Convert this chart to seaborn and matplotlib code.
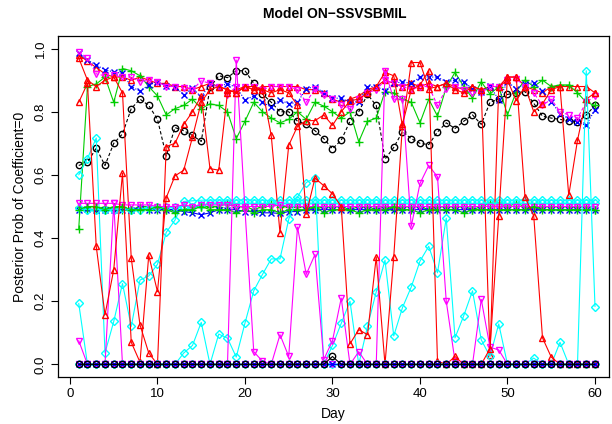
import matplotlib
matplotlib.use("Agg")
import matplotlib.pyplot as plt
import seaborn as sns
import pandas as pd

# ---------------- data ----------------
days = list(range(1, 61))

black_high = [0.63,0.64,0.685,0.63,0.70,0.73,0.81,0.84,0.82,0.776,
              0.66,0.75,0.74,0.725,0.706,0.877,0.914,0.908,0.93,0.93,
              0.89,0.856,0.83,0.80,0.80,0.77,0.76,0.74,0.715,0.683,
              0.71,0.77,0.80,0.855,0.82,0.65,0.687,0.737,0.715,0.70,
              0.696,0.736,0.765,0.747,0.77,0.79,0.76,0.83,0.84,0.855,
              0.86,0.864,0.827,0.786,0.78,0.776,0.77,0.767,0.79,0.82]
red_top = [0.98,0.96,0.94,0.92,0.91,0.91,0.90,0.91,0.90,0.89,
           0.89,0.88,0.88,0.87,0.88,0.89,0.88,0.87,0.86,0.88,
           0.87,0.88,0.88,0.88,0.88,0.88,0.87,0.87,0.86,0.84,
           0.83,0.84,0.85,0.87,0.88,0.90,0.89,0.88,0.89,0.88,
           0.89,0.88,0.89,0.88,0.87,0.88,0.87,0.88,0.88,0.91,
           0.91,0.88,0.87,0.86,0.88,0.88,0.88,0.88,0.88,0.86]
green_high = [0.43,0.88,0.888,0.91,0.83,0.937,0.93,0.914,0.88,0.85,
              0.79,0.81,0.82,0.84,0.81,0.825,0.82,0.80,0.715,0.77,
              0.83,0.80,0.78,0.765,0.776,0.80,0.776,0.83,0.818,0.80,
              0.78,0.80,0.705,0.77,0.78,0.864,0.86,0.84,0.83,0.765,
              0.84,0.786,0.877,0.925,0.88,0.843,0.895,0.856,0.88,0.79,
              0.864,0.90,0.88,0.90,0.88,0.885,0.885,0.86,0.83,0.82]
blue_high = [0.985,0.964,0.948,0.933,0.926,0.922,0.88,0.865,0.885,0.895,
             0.882,0.88,0.854,0.876,0.846,0.89,0.88,0.889,0.877,0.838,
             0.85,0.83,0.815,0.838,0.825,0.83,0.873,0.88,0.86,0.843,
             0.843,0.83,0.832,0.88,0.88,0.867,0.89,0.895,0.89,0.91,
             0.91,0.91,0.895,0.90,0.895,0.873,0.862,0.882,0.838,0.895,
             0.873,0.889,0.892,0.867,0.832,0.794,0.778,0.767,0.757,0.807]
cyan_rise = [0.60,0.652,0.717,0.036,0.136,0.256,0.12,0.267,0.28,0.317,
             0.418,0.457,0.516,0.518,0.52,0.52,0.521,0.52,0.52,0.522,
             0.52,0.52,0.519,0.52,0.52,0.52,0.52,0.521,0.52,0.52,
             0.52,0.52,0.52,0.521,0.52,0.52,0.52,0.52,0.521,0.52,
             0.52,0.52,0.52,0.52,0.52,0.521,0.52,0.52,0.52,0.52,
             0.52,0.521,0.52,0.52,0.52,0.52,0.52,0.52,0.52,0.52]
magenta_high = [0.99,0.97,0.92,0.914,0.915,0.91,0.91,0.895,0.90,0.895,
                0.88,0.88,0.876,0.87,0.898,0.89,0.877,0.854,0.88,0.88,
                0.88,0.87,0.88,0.88,0.88,0.87,0.83,0.873,0.853,0.84,
                0.82,0.81,0.84,0.86,0.87,0.90,0.89,0.88,0.87,0.88,
                0.88,0.82,0.873,0.88,0.87,0.86,0.86,0.88,0.88,0.90,
                0.905,0.88,0.86,0.82,0.84,0.80,0.79,0.78,0.83,0.85]
black_zero = [0.0,0.0,0.0,0.0,0.0,0.0,0.0,0.0,0.0,0.0,
              0.0,0.0,0.0,0.0,0.0,0.0,0.0,0.0,0.0,0.0,
              0.0,0.0,0.0,0.0,0.0,0.0,0.0,0.0,0.0,0.025,
              0.0,0.0,0.0,0.0,0.0,0.0,0.0,0.0,0.0,0.0,
              0.0,0.0,0.0,0.0,0.0,0.0,0.0,0.0,0.0,0.0,
              0.0,0.0,0.0,0.0,0.0,0.0,0.0,0.0,0.0,0.0]
red_vol_a = [0.83,0.89,0.374,0.157,0.30,0.605,0.07,0.007,0.345,0.23,
             0.528,0.597,0.615,0.72,0.83,0.87,0.88,0.87,0.86,0.88,
             0.87,0.87,0.86,0.87,0.86,0.82,0.476,0.59,0.566,0.54,
             0.50,0.065,0.11,0.094,0.34,0.0,0.34,0.76,0.87,0.885,
             0.93,0.01,0.0,0.025,0.0,0.0,0.0,0.05,0.47,0.91,
             0.91,0.53,0.47,0.084,0.023,0.0,0.0,0.0,0.0,0.0]
green_mid = [0.50,0.49,0.49,0.50,0.49,0.49,0.49,0.50,0.50,0.49,
             0.49,0.49,0.49,0.50,0.50,0.50,0.50,0.51,0.50,0.50,
             0.49,0.50,0.51,0.50,0.50,0.50,0.50,0.49,0.50,0.50,
             0.50,0.49,0.50,0.50,0.49,0.50,0.49,0.50,0.50,0.50,
             0.49,0.50,0.50,0.50,0.50,0.49,0.50,0.51,0.51,0.50,
             0.51,0.50,0.49,0.50,0.50,0.50,0.50,0.50,0.50,0.49]
blue_mid = [0.49,0.492,0.49,0.49,0.49,0.49,0.49,0.495,0.49,0.49,
            0.49,0.49,0.484,0.48,0.474,0.48,0.49,0.49,0.49,0.484,
            0.484,0.48,0.48,0.478,0.484,0.484,0.49,0.49,0.49,0.49,
            0.49,0.49,0.49,0.49,0.488,0.49,0.49,0.49,0.49,0.49,
            0.49,0.488,0.49,0.49,0.49,0.49,0.49,0.49,0.49,0.49,
            0.49,0.49,0.49,0.49,0.49,0.488,0.49,0.49,0.49,0.49]
cyan_low = [0.193,0.0,0.0,0.0,0.0,0.0,0.0,0.0,0.0,0.0,
            0.0,0.0,0.036,0.06,0.133,0.0,0.096,0.083,0.023,0.131,
            0.233,0.285,0.334,0.334,0.46,0.53,0.576,0.59,0.0,0.06,
            0.13,0.2,0.0,0.12,0.23,0.33,0.09,0.18,0.245,0.327,
            0.374,0.29,0.463,0.084,0.154,0.233,0.078,0.025,0.128,0.0,
            0.0,0.0,0.02,0.0,0.0,0.07,0.0,0.0,0.93,0.183]
magenta_vol = [0.075,0.0,0.0,0.0,0.51,0.0,0.0,0.0,0.0,0.0,
               0.0,0.0,0.0,0.0,0.0,0.0,0.0,0.0,0.964,0.49,
               0.04,0.01,0.0,0.094,0.025,0.435,0.285,0.348,0.015,0.075,
               0.21,0.0,0.04,0.0,0.0,0.93,0.84,0.84,0.437,0.573,
               0.63,0.594,0.20,0.01,0.0,0.0,0.206,0.054,0.046,0.0,
               0.0,0.0,0.0,0.0,0.0,0.0,0.0,0.0,0.0,0.0]
red_vol_b = [0.97,0.90,0.88,0.90,0.91,0.86,0.337,0.125,0.036,0.0,
             0.69,0.70,0.76,0.80,0.85,0.62,0.615,0.86,0.87,0.88,
             0.88,0.87,0.725,0.416,0.694,0.754,0.772,0.772,0.79,0.757,
             0.80,0.835,0.84,0.86,0.88,0.925,0.914,0.754,0.956,0.956,
             0.873,0.88,0.89,0.87,0.86,0.88,0.87,0.03,0.88,0.90,
             0.835,0.88,0.80,0.825,0.87,0.88,0.535,0.71,0.84,0.86]
green_mid2 = [0.49,0.50,0.50,0.49,0.50,0.50,0.49,0.49,0.49,0.50,
              0.49,0.48,0.49,0.49,0.50,0.49,0.49,0.49,0.48,0.49,
              0.48,0.49,0.49,0.48,0.49,0.49,0.49,0.50,0.48,0.49,
              0.49,0.49,0.48,0.49,0.49,0.49,0.50,0.49,0.49,0.48,
              0.49,0.49,0.49,0.49,0.48,0.49,0.49,0.49,0.49,0.49,
              0.49,0.49,0.50,0.49,0.49,0.49,0.49,0.49,0.49,0.49]
blue_zero = [0.0,0.0,0.0,0.0,0.0,0.0,0.0,0.0,0.0,0.0,
             0.0,0.0,0.0,0.0,0.0,0.0,0.0,0.0,0.0,0.0,
             0.0,0.0,0.0,0.0,0.0,0.0,0.0,0.0,0.0,0.0,
             0.0,0.0,0.0,0.0,0.0,0.0,0.0,0.0,0.0,0.0,
             0.0,0.0,0.0,0.0,0.0,0.0,0.0,0.0,0.0,0.0,
             0.0,0.0,0.0,0.0,0.0,0.0,0.0,0.0,0.0,0.0]
cyan_mid = [0.495,0.49,0.49,0.49,0.49,0.495,0.49,0.49,0.495,0.50,
            0.50,0.50,0.50,0.50,0.505,0.51,0.51,0.51,0.51,0.51,
            0.51,0.51,0.51,0.51,0.51,0.51,0.51,0.51,0.51,0.51,
            0.51,0.51,0.51,0.51,0.51,0.51,0.51,0.51,0.51,0.51,
            0.51,0.51,0.51,0.51,0.51,0.51,0.51,0.51,0.51,0.51,
            0.51,0.51,0.51,0.51,0.51,0.51,0.51,0.51,0.51,0.51]
magenta_mid = [0.51,0.51,0.51,0.51,0.51,0.505,0.505,0.505,0.505,0.50,
               0.50,0.50,0.505,0.50,0.505,0.505,0.505,0.505,0.50,0.50,
               0.50,0.50,0.50,0.505,0.50,0.50,0.50,0.50,0.50,0.50,
               0.50,0.50,0.50,0.50,0.50,0.50,0.50,0.50,0.50,0.50,
               0.50,0.50,0.50,0.50,0.50,0.50,0.50,0.50,0.50,0.50,
               0.50,0.50,0.50,0.50,0.50,0.50,0.50,0.50,0.50,0.50]
cyan_zero = [0.0,0.0,0.0,0.0,0.0,0.0,0.0,0.0,0.0,0.0,
             0.0,0.0,0.0,0.0,0.0,0.0,0.0,0.0,0.0,0.0,
             0.0,0.0,0.0,0.0,0.0,0.0,0.0,0.0,0.0,0.0,
             0.0,0.0,0.0,0.0,0.0,0.0,0.0,0.0,0.0,0.0,
             0.0,0.0,0.0,0.0,0.0,0.0,0.0,0.0,0.0,0.0,
             0.0,0.0,0.0,0.0,0.0,0.0,0.0,0.0,0.0,0.0]
magenta_zero = [0.0,0.0,0.0,0.0,0.0,0.0,0.0,0.0,0.0,0.0,
                0.0,0.0,0.0,0.0,0.0,0.0,0.0,0.0,0.0,0.0,
                0.0,0.0,0.0,0.0,0.0,0.0,0.0,0.0,0.0,0.0,
                0.0,0.0,0.0,0.0,0.0,0.0,0.0,0.0,0.0,0.0,
                0.0,0.0,0.0,0.0,0.0,0.0,0.0,0.0,0.0,0.0,
                0.0,0.0,0.0,0.0,0.0,0.0,0.0,0.0,0.0,0.0]

x_ticks = [0, 10, 20, 30, 40, 50, 60]
y_ticks = [0.0, 0.2, 0.4, 0.6, 0.8, 1.0]
y_tick_labels = ["0.0", "0.2", "0.4", "0.6", "0.8", "1.0"]
title = "Model ON\u2212SSVSBMIL"
x_label = "Day"
y_label = "Posterior Prob of Coefficient=0"

# ---------------- styles (R palette / pch order) ----------------
STY = {
    "black":   ("#000000", "o", 4.6),
    "red":     ("#FF0000", "^", 5.0),
    "green":   ("#00CD00", "+", 6.0),
    "blue":    ("#0000FF", "x", 4.6),
    "cyan":    ("#00FFFF", "D", 3.8),
    "magenta": ("#FF00FF", "v", 5.0),
}
order = [
    ("black", black_high, (0, (3, 2))), ("red", red_top, "-"), ("green", green_high, "-"),
    ("blue", blue_high, (0, (1, 1.5))), ("cyan", cyan_rise, "-"), ("magenta", magenta_high, (0, (3, 2))),
    ("red", red_vol_b, "-"), ("green", green_mid, "-"), ("blue", blue_mid, "-"),
    ("cyan", cyan_mid, "-"), ("magenta", magenta_mid, "-"), ("green", green_mid2, "-"),
    ("cyan", cyan_low, "-"), ("magenta", magenta_vol, "-"), ("red", red_vol_a, "-"),
    ("cyan", cyan_zero, "-"), ("magenta", magenta_zero, "-"),
    ("blue", blue_zero, "-"), ("black", black_zero, "-"),
]

sns.set_theme(style="white")
plt.rcParams['font.family'] = ['Liberation Sans', 'DejaVu Sans']

fig = plt.figure(figsize=(6.12, 4.24), dpi=100)
ax = fig.add_axes([58/612, 1-377/424, (609-58)/612, (377-36)/424])

for cname, vals, ls in order:
    col, mk, ms = STY[cname]
    df = pd.DataFrame({"day": days, "p": vals})
    sns.lineplot(data=df, x="day", y="p", ax=ax, color=col, linestyle=ls,
                 linewidth=0.8, marker=mk, markersize=ms,
                 markerfacecolor="none", markeredgecolor=col,
                 markeredgewidth=1.0, legend=False, sort=False)

ax.set_xlim(-1.37, 61.6)
ax.set_ylim(-0.04, 1.04)
ax.set_xticks(x_ticks)
ax.set_xticklabels([str(t) for t in x_ticks])
ax.set_yticks(y_ticks)
ax.set_yticklabels(y_tick_labels)
for lbl in ax.get_yticklabels():
    lbl.set_rotation(90)
    lbl.set_va("center")
ax.tick_params(axis="both", direction="out", length=5, width=0.8,
               color="black", labelsize=9.5, labelcolor="black", pad=3,
               bottom=True, left=True)
for s in ax.spines.values():
    s.set_color("black")
    s.set_linewidth(0.9)
ax.set_xlabel(x_label, fontsize=10, color="black", labelpad=5)
ax.set_ylabel(y_label, fontsize=10, color="black", labelpad=6)
fig.text(335/612, 1-14/424, title, ha="center", va="center",
         fontsize=10, fontweight="bold", color="black")

fig.savefig("out.png", dpi=100)
